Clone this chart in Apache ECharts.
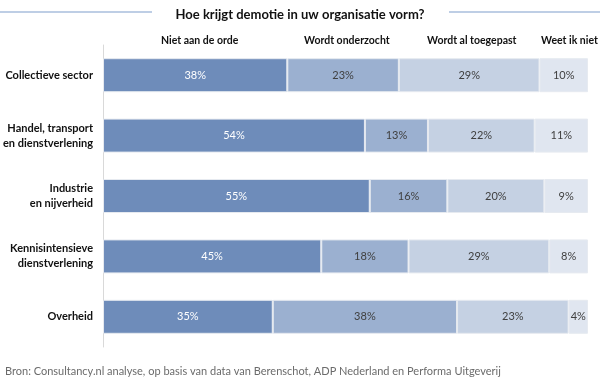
<!DOCTYPE html>
<html><head><meta charset="utf-8">
<script src="https://cdn.jsdelivr.net/npm/echarts@6/dist/echarts.min.js"></script>
<style>html,body{margin:0;padding:0;background:#fff}#c{width:600px;height:385px}</style>
</head><body><div id="c"></div>
<script>
const categories = ['Collectieve sector', 'Handel, transport\nen dienstverlening', 'Industrie\nen nijverheid', 'Kennisintensieve\ndienstverlening', 'Overheid'];
const seriesNames = ['Niet aan de orde', 'Wordt onderzocht', 'Wordt al toegepast', 'Weet ik niet'];
const nietAanDeOrde = [38, 54, 55, 45, 35];
const wordtOnderzocht = [23, 13, 16, 18, 38];
const wordtAlToegepast = [29, 22, 20, 29, 23];
const weetIkNiet = [10, 11, 9, 8, 4];
const values = [nietAanDeOrde, wordtOnderzocht, wordtAlToegepast, weetIkNiet];
const colors = ['#6e8cba', '#9bb0d0', '#c5d1e3', '#e0e6f0'];
const labelColors = ['#ffffff', '#404040', '#404040', '#404040'];
const legendLeft = [156, 299, 422, 536];
const FONT = 'Lato';

const chart = echarts.init(document.getElementById('c'));
chart.setOption({
  animation: false,
  textStyle: { fontFamily: FONT },
  title: {
    text: 'Hoe krijgt demotie in uw organisatie vorm?',
    left: 'center', top: 3,
    textStyle: { fontFamily: FONT, fontSize: 13, fontWeight: 'bold', color: '#111' }
  },
  legend: seriesNames.map((n, i) => ({
    data: [n], left: legendLeft[i], top: 35, icon: 'none', itemWidth: 0, itemHeight: 0,
    padding: 0, selectedMode: false,
    textStyle: { fontFamily: FONT, fontSize: 10.5, fontWeight: 'bold', color: '#111', padding: 0 }
  })),
  grid: { left: 103, right: 12, top: 45, bottom: 38 },
  xAxis: { type: 'value', min: 0, max: 100, show: false },
  yAxis: {
    type: 'category', data: categories, inverse: true,
    axisLine: { show: true, lineStyle: { color: '#d9d9d9', width: 1 } },
    axisTick: { show: false },
    axisLabel: { fontFamily: FONT, fontSize: 11, fontWeight: 'bold', color: '#111', margin: 10, lineHeight: 15, align: 'right' }
  },
  series: seriesNames.map((n, i) => ({
    name: n, type: 'bar', stack: 'total', barWidth: 34,
    data: values[i],
    itemStyle: { color: colors[i], borderColor: '#e6eaf0', borderWidth: 1 },
    label: { show: true, position: 'inside', formatter: '{c}%', fontFamily: FONT, fontSize: 11, color: labelColors[i] }
  })),
  graphic: [
    { type: 'line', shape: { x1: 0, y1: 12, x2: 152, y2: 12 }, style: { stroke: '#a9bedc', lineWidth: 1.5 } },
    { type: 'line', shape: { x1: 449, y1: 12, x2: 600, y2: 12 }, style: { stroke: '#a9bedc', lineWidth: 1.5 } },
    { type: 'text', left: 5, top: 366, style: { text: 'Bron: Consultancy.nl analyse, op basis van data van Berenschot, ADP Nederland en Performa Uitgeverij', fontFamily: FONT, fontSize: 11, fill: '#6b6b6b' } }
  ]
});
</script></body></html>
